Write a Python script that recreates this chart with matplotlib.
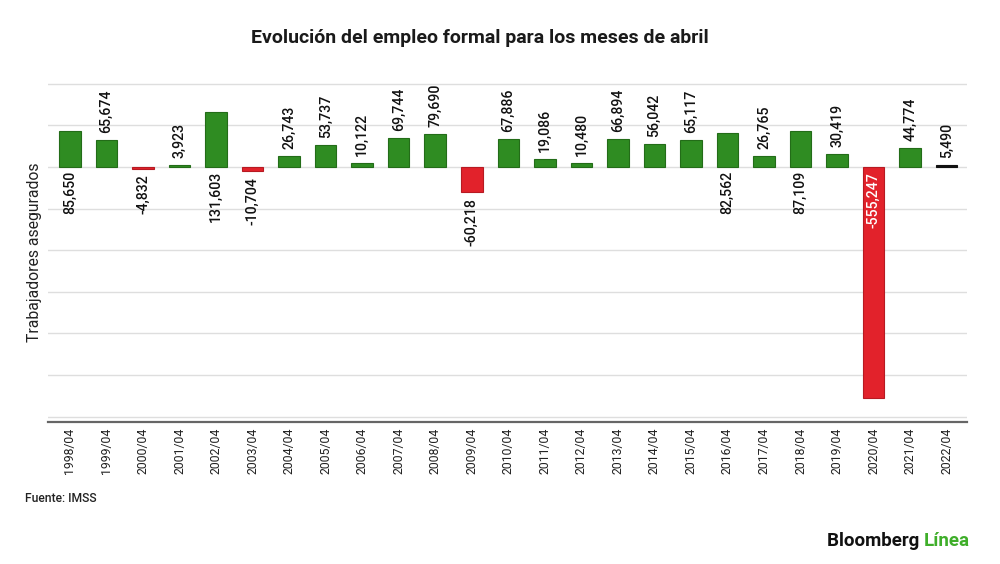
import matplotlib
matplotlib.use("Agg")
import matplotlib.pyplot as plt

plt.rcParams['font.family'] = ['Roboto', 'DejaVu Sans']

years = ["1998/04", "1999/04", "2000/04", "2001/04", "2002/04", "2003/04", "2004/04",
         "2005/04", "2006/04", "2007/04", "2008/04", "2009/04", "2010/04", "2011/04",
         "2012/04", "2013/04", "2014/04", "2015/04", "2016/04", "2017/04", "2018/04",
         "2019/04", "2020/04", "2021/04", "2022/04"]
values = [85650, 65674, -4832, 3923, 131603, -10704, 26743, 53737, 10122, 69744,
          79690, -60218, 67886, 19086, 10480, 66894, 56042, 65117, 82562, 26765,
          87109, 30419, -555247, 44774, 5490]

GREEN, GREEN_EDGE = "#2f8c22", "#236c18"
RED, RED_EDGE = "#e2222b", "#b71a22"
LATEST = "#111111"

fig = plt.figure(figsize=(10, 5.64), dpi=100)
ax = fig.add_axes([0.048, 1 - 422/564, 0.919, (422 - 83)/564])

x = list(range(len(values)))
colors, edges = [], []
for i, v in enumerate(values):
    if i == len(values) - 1:
        colors.append(LATEST); edges.append(LATEST)
    elif v >= 0:
        colors.append(GREEN); edges.append(GREEN_EDGE)
    else:
        colors.append(RED); edges.append(RED_EDGE)

ax.bar(x, values, width=0.59, color=colors, edgecolor=edges, linewidth=0.8, zorder=3)

ax.set_xlim(-0.6, len(values) - 1 + 0.556)
ax.set_ylim(-613000, 202000)
ax.set_yticks(range(-600000, 200001, 100000))
ax.yaxis.grid(True, color="#dedede", linewidth=1.0, zorder=0)
ax.tick_params(axis='y', length=0, labelleft=False)
ax.tick_params(axis='x', length=0, pad=4)
ax.set_xticks(x)
ax.set_xticklabels(years, rotation=90, fontsize=8.8, color="#222222")
for s in ["top", "right", "left"]:
    ax.spines[s].set_visible(False)
ax.spines["bottom"].set_color("#666666")
ax.spines["bottom"].set_linewidth(1.6)

for i, v in enumerate(values):
    lab = f"{v:,}"
    kw = dict(textcoords="offset points", rotation=90, ha="center",
              fontsize=10.2, fontweight="medium", color="#111111")
    if 0 <= v < 80000:
        ax.annotate(lab, (i, v), xytext=(0, 5), va="bottom", **kw)
    elif v >= 80000:
        ax.annotate(lab, (i, 0), xytext=(0, -3), va="top", **kw)
    elif v < -200000:
        kw["color"] = "white"
        ax.annotate(lab, (i, 0), xytext=(0, -4), va="top", **kw)
    else:
        ax.annotate(lab, (i, v), xytext=(0, -4), va="top", **kw)

fig.text(0.035, 1 - 252/564, "Trabajadores asegurados", rotation=90, ha="center",
         va="center", fontsize=11.3, color="#222222")
fig.text(0.48, 1 - 38/564, "Evolución del empleo formal para los meses de abril",
         ha="center", va="center", fontsize=14, fontweight="bold", color="#1a1a1a")
fig.text(0.025, 1 - 498/564, "Fuente: IMSS", ha="left", va="center",
         fontsize=8.7, fontweight="medium", color="#222222")
t1 = fig.text(0.827, 1 - 541/564, "Bloomberg ", ha="left", va="center",
              fontsize=13.5, fontweight="bold", color="#111111")
fig.canvas.draw()
bb = t1.get_window_extent()
fig.text(bb.x1 / 1000, 1 - 541/564, "Línea", ha="left", va="center",
         fontsize=13.5, fontweight="bold", color="#3fae2a")

fig.savefig("out.png", dpi=100)
